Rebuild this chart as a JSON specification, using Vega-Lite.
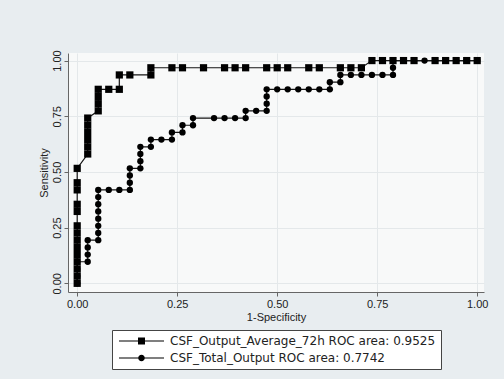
{
  "$schema": "https://vega.github.io/schema/vega-lite/v6.json",
  "width": 416,
  "height": 239,
  "padding": {"left": 37, "top": 49, "right": 15, "bottom": 13},
  "background": "#e8edf0",
  "config": {
    "font": "Liberation Sans",
    "view": {"fill": "#f8f9f9", "stroke": null},
    "legend": {"layout": {"bottom": {"anchor": "middle"}}},
    "axis": {
      "labelFont": "Liberation Sans",
      "titleFont": "Liberation Sans",
      "labelFontSize": 11,
      "titleFontSize": 11,
      "titleFontWeight": "normal",
      "labelColor": "#222",
      "titleColor": "#222",
      "domainColor": "#666",
      "tickColor": "#666",
      "tickSize": 4,
      "labelPadding": 2,
      "titlePadding": 2,
      "gridColor": "#e4e8ea",
      "gridWidth": 1
    }
  },
  "data": {
    "values": [
      {"series": "CSF_Total_Output ROC area: 0.7742", "x": 0, "y": 0},
      {"series": "CSF_Total_Output ROC area: 0.7742", "x": 0, "y": 0.0323},
      {"series": "CSF_Total_Output ROC area: 0.7742", "x": 0, "y": 0.0645},
      {"series": "CSF_Total_Output ROC area: 0.7742", "x": 0, "y": 0.0968},
      {"series": "CSF_Total_Output ROC area: 0.7742", "x": 0.0263, "y": 0.0968},
      {"series": "CSF_Total_Output ROC area: 0.7742", "x": 0.0263, "y": 0.129},
      {"series": "CSF_Total_Output ROC area: 0.7742", "x": 0.0263, "y": 0.1613},
      {"series": "CSF_Total_Output ROC area: 0.7742", "x": 0.0263, "y": 0.1935},
      {"series": "CSF_Total_Output ROC area: 0.7742", "x": 0.0526, "y": 0.1935},
      {"series": "CSF_Total_Output ROC area: 0.7742", "x": 0.0526, "y": 0.2258},
      {"series": "CSF_Total_Output ROC area: 0.7742", "x": 0.0526, "y": 0.2581},
      {"series": "CSF_Total_Output ROC area: 0.7742", "x": 0.0526, "y": 0.2903},
      {"series": "CSF_Total_Output ROC area: 0.7742", "x": 0.0526, "y": 0.3226},
      {"series": "CSF_Total_Output ROC area: 0.7742", "x": 0.0526, "y": 0.3548},
      {"series": "CSF_Total_Output ROC area: 0.7742", "x": 0.0526, "y": 0.3871},
      {"series": "CSF_Total_Output ROC area: 0.7742", "x": 0.0526, "y": 0.4194},
      {"series": "CSF_Total_Output ROC area: 0.7742", "x": 0.0789, "y": 0.4194},
      {"series": "CSF_Total_Output ROC area: 0.7742", "x": 0.1053, "y": 0.4194},
      {"series": "CSF_Total_Output ROC area: 0.7742", "x": 0.1316, "y": 0.4194},
      {"series": "CSF_Total_Output ROC area: 0.7742", "x": 0.1316, "y": 0.4516},
      {"series": "CSF_Total_Output ROC area: 0.7742", "x": 0.1316, "y": 0.4839},
      {"series": "CSF_Total_Output ROC area: 0.7742", "x": 0.1316, "y": 0.5161},
      {"series": "CSF_Total_Output ROC area: 0.7742", "x": 0.1579, "y": 0.5161},
      {"series": "CSF_Total_Output ROC area: 0.7742", "x": 0.1579, "y": 0.5484},
      {"series": "CSF_Total_Output ROC area: 0.7742", "x": 0.1579, "y": 0.5806},
      {"series": "CSF_Total_Output ROC area: 0.7742", "x": 0.1579, "y": 0.6129},
      {"series": "CSF_Total_Output ROC area: 0.7742", "x": 0.1842, "y": 0.6129},
      {"series": "CSF_Total_Output ROC area: 0.7742", "x": 0.1842, "y": 0.6452},
      {"series": "CSF_Total_Output ROC area: 0.7742", "x": 0.2105, "y": 0.6452},
      {"series": "CSF_Total_Output ROC area: 0.7742", "x": 0.2368, "y": 0.6452},
      {"series": "CSF_Total_Output ROC area: 0.7742", "x": 0.2368, "y": 0.6774},
      {"series": "CSF_Total_Output ROC area: 0.7742", "x": 0.2632, "y": 0.6774},
      {"series": "CSF_Total_Output ROC area: 0.7742", "x": 0.2632, "y": 0.7097},
      {"series": "CSF_Total_Output ROC area: 0.7742", "x": 0.2895, "y": 0.7097},
      {"series": "CSF_Total_Output ROC area: 0.7742", "x": 0.2895, "y": 0.7419},
      {"series": "CSF_Total_Output ROC area: 0.7742", "x": 0.3421, "y": 0.7419},
      {"series": "CSF_Total_Output ROC area: 0.7742", "x": 0.3684, "y": 0.7419},
      {"series": "CSF_Total_Output ROC area: 0.7742", "x": 0.3947, "y": 0.7419},
      {"series": "CSF_Total_Output ROC area: 0.7742", "x": 0.4211, "y": 0.7419},
      {"series": "CSF_Total_Output ROC area: 0.7742", "x": 0.4211, "y": 0.7742},
      {"series": "CSF_Total_Output ROC area: 0.7742", "x": 0.4474, "y": 0.7742},
      {"series": "CSF_Total_Output ROC area: 0.7742", "x": 0.4737, "y": 0.7742},
      {"series": "CSF_Total_Output ROC area: 0.7742", "x": 0.4737, "y": 0.8065},
      {"series": "CSF_Total_Output ROC area: 0.7742", "x": 0.4737, "y": 0.8387},
      {"series": "CSF_Total_Output ROC area: 0.7742", "x": 0.4737, "y": 0.871},
      {"series": "CSF_Total_Output ROC area: 0.7742", "x": 0.5, "y": 0.871},
      {"series": "CSF_Total_Output ROC area: 0.7742", "x": 0.5263, "y": 0.871},
      {"series": "CSF_Total_Output ROC area: 0.7742", "x": 0.5526, "y": 0.871},
      {"series": "CSF_Total_Output ROC area: 0.7742", "x": 0.5789, "y": 0.871},
      {"series": "CSF_Total_Output ROC area: 0.7742", "x": 0.6053, "y": 0.871},
      {"series": "CSF_Total_Output ROC area: 0.7742", "x": 0.6316, "y": 0.871},
      {"series": "CSF_Total_Output ROC area: 0.7742", "x": 0.6316, "y": 0.9032},
      {"series": "CSF_Total_Output ROC area: 0.7742", "x": 0.6579, "y": 0.9032},
      {"series": "CSF_Total_Output ROC area: 0.7742", "x": 0.6579, "y": 0.9355},
      {"series": "CSF_Total_Output ROC area: 0.7742", "x": 0.6842, "y": 0.9355},
      {"series": "CSF_Total_Output ROC area: 0.7742", "x": 0.7105, "y": 0.9355},
      {"series": "CSF_Total_Output ROC area: 0.7742", "x": 0.7368, "y": 0.9355},
      {"series": "CSF_Total_Output ROC area: 0.7742", "x": 0.7632, "y": 0.9355},
      {"series": "CSF_Total_Output ROC area: 0.7742", "x": 0.7895, "y": 0.9355},
      {"series": "CSF_Total_Output ROC area: 0.7742", "x": 0.7895, "y": 0.9677},
      {"series": "CSF_Total_Output ROC area: 0.7742", "x": 0.7895, "y": 1},
      {"series": "CSF_Total_Output ROC area: 0.7742", "x": 0.8158, "y": 1},
      {"series": "CSF_Total_Output ROC area: 0.7742", "x": 0.8421, "y": 1},
      {"series": "CSF_Total_Output ROC area: 0.7742", "x": 0.8684, "y": 1},
      {"series": "CSF_Total_Output ROC area: 0.7742", "x": 0.8947, "y": 1},
      {"series": "CSF_Total_Output ROC area: 0.7742", "x": 0.9211, "y": 1},
      {"series": "CSF_Total_Output ROC area: 0.7742", "x": 0.9474, "y": 1},
      {"series": "CSF_Total_Output ROC area: 0.7742", "x": 0.9737, "y": 1},
      {"series": "CSF_Total_Output ROC area: 0.7742", "x": 1, "y": 1},
      {"series": "CSF_Output_Average_72h ROC area: 0.9525", "x": 0, "y": 0},
      {"series": "CSF_Output_Average_72h ROC area: 0.9525", "x": 0, "y": 0.0323},
      {"series": "CSF_Output_Average_72h ROC area: 0.9525", "x": 0, "y": 0.0645},
      {"series": "CSF_Output_Average_72h ROC area: 0.9525", "x": 0, "y": 0.0968},
      {"series": "CSF_Output_Average_72h ROC area: 0.9525", "x": 0, "y": 0.129},
      {"series": "CSF_Output_Average_72h ROC area: 0.9525", "x": 0, "y": 0.1613},
      {"series": "CSF_Output_Average_72h ROC area: 0.9525", "x": 0, "y": 0.1935},
      {"series": "CSF_Output_Average_72h ROC area: 0.9525", "x": 0, "y": 0.2258},
      {"series": "CSF_Output_Average_72h ROC area: 0.9525", "x": 0, "y": 0.2581},
      {"series": "CSF_Output_Average_72h ROC area: 0.9525", "x": 0, "y": 0.3226},
      {"series": "CSF_Output_Average_72h ROC area: 0.9525", "x": 0, "y": 0.3548},
      {"series": "CSF_Output_Average_72h ROC area: 0.9525", "x": 0, "y": 0.4194},
      {"series": "CSF_Output_Average_72h ROC area: 0.9525", "x": 0, "y": 0.4516},
      {"series": "CSF_Output_Average_72h ROC area: 0.9525", "x": 0, "y": 0.5161},
      {"series": "CSF_Output_Average_72h ROC area: 0.9525", "x": 0.0263, "y": 0.5806},
      {"series": "CSF_Output_Average_72h ROC area: 0.9525", "x": 0.0263, "y": 0.6129},
      {"series": "CSF_Output_Average_72h ROC area: 0.9525", "x": 0.0263, "y": 0.6452},
      {"series": "CSF_Output_Average_72h ROC area: 0.9525", "x": 0.0263, "y": 0.6774},
      {"series": "CSF_Output_Average_72h ROC area: 0.9525", "x": 0.0263, "y": 0.7097},
      {"series": "CSF_Output_Average_72h ROC area: 0.9525", "x": 0.0263, "y": 0.7419},
      {"series": "CSF_Output_Average_72h ROC area: 0.9525", "x": 0.0526, "y": 0.7742},
      {"series": "CSF_Output_Average_72h ROC area: 0.9525", "x": 0.0526, "y": 0.8065},
      {"series": "CSF_Output_Average_72h ROC area: 0.9525", "x": 0.0526, "y": 0.8387},
      {"series": "CSF_Output_Average_72h ROC area: 0.9525", "x": 0.0526, "y": 0.871},
      {"series": "CSF_Output_Average_72h ROC area: 0.9525", "x": 0.0789, "y": 0.871},
      {"series": "CSF_Output_Average_72h ROC area: 0.9525", "x": 0.1053, "y": 0.871},
      {"series": "CSF_Output_Average_72h ROC area: 0.9525", "x": 0.1053, "y": 0.9355},
      {"series": "CSF_Output_Average_72h ROC area: 0.9525", "x": 0.1316, "y": 0.9355},
      {"series": "CSF_Output_Average_72h ROC area: 0.9525", "x": 0.1842, "y": 0.9355},
      {"series": "CSF_Output_Average_72h ROC area: 0.9525", "x": 0.1842, "y": 0.9677},
      {"series": "CSF_Output_Average_72h ROC area: 0.9525", "x": 0.2368, "y": 0.9677},
      {"series": "CSF_Output_Average_72h ROC area: 0.9525", "x": 0.2632, "y": 0.9677},
      {"series": "CSF_Output_Average_72h ROC area: 0.9525", "x": 0.3158, "y": 0.9677},
      {"series": "CSF_Output_Average_72h ROC area: 0.9525", "x": 0.3684, "y": 0.9677},
      {"series": "CSF_Output_Average_72h ROC area: 0.9525", "x": 0.3947, "y": 0.9677},
      {"series": "CSF_Output_Average_72h ROC area: 0.9525", "x": 0.4211, "y": 0.9677},
      {"series": "CSF_Output_Average_72h ROC area: 0.9525", "x": 0.4737, "y": 0.9677},
      {"series": "CSF_Output_Average_72h ROC area: 0.9525", "x": 0.5, "y": 0.9677},
      {"series": "CSF_Output_Average_72h ROC area: 0.9525", "x": 0.5263, "y": 0.9677},
      {"series": "CSF_Output_Average_72h ROC area: 0.9525", "x": 0.5789, "y": 0.9677},
      {"series": "CSF_Output_Average_72h ROC area: 0.9525", "x": 0.6053, "y": 0.9677},
      {"series": "CSF_Output_Average_72h ROC area: 0.9525", "x": 0.6579, "y": 0.9677},
      {"series": "CSF_Output_Average_72h ROC area: 0.9525", "x": 0.6842, "y": 0.9677},
      {"series": "CSF_Output_Average_72h ROC area: 0.9525", "x": 0.7105, "y": 0.9677},
      {"series": "CSF_Output_Average_72h ROC area: 0.9525", "x": 0.7368, "y": 1},
      {"series": "CSF_Output_Average_72h ROC area: 0.9525", "x": 0.7632, "y": 1},
      {"series": "CSF_Output_Average_72h ROC area: 0.9525", "x": 0.7895, "y": 1},
      {"series": "CSF_Output_Average_72h ROC area: 0.9525", "x": 0.8158, "y": 1},
      {"series": "CSF_Output_Average_72h ROC area: 0.9525", "x": 0.8421, "y": 1},
      {"series": "CSF_Output_Average_72h ROC area: 0.9525", "x": 0.8947, "y": 1},
      {"series": "CSF_Output_Average_72h ROC area: 0.9525", "x": 0.9211, "y": 1},
      {"series": "CSF_Output_Average_72h ROC area: 0.9525", "x": 0.9474, "y": 1},
      {"series": "CSF_Output_Average_72h ROC area: 0.9525", "x": 0.9737, "y": 1},
      {"series": "CSF_Output_Average_72h ROC area: 0.9525", "x": 1, "y": 1}
    ]
  },
  "encoding": {
    "x": {
      "field": "x",
      "type": "quantitative",
      "title": "1-Specificity",
      "scale": {"domain": [-0.023, 1.017], "nice": false, "zero": false},
      "axis": {"values": [0, 0.25, 0.5, 0.75, 1], "format": ".2f"}
    },
    "y": {
      "field": "y",
      "type": "quantitative",
      "title": "Sensitivity",
      "scale": {"domain": [-0.039, 1.034], "nice": false, "zero": false},
      "axis": {
        "values": [0, 0.25, 0.5, 0.75, 1],
        "format": ".2f",
        "labelAngle": 270,
        "labelAlign": "center",
        "labelBaseline": "bottom"
      }
    }
  },
  "layer": [
    {
      "mark": {"type": "line", "color": "#151515", "strokeWidth": 1.2},
      "encoding": {
        "detail": {"field": "series", "type": "nominal"},
        "order": [{"field": "x", "type": "quantitative"}, {"field": "y", "type": "quantitative"}]
      }
    },
    {
      "mark": {"type": "point", "filled": true, "color": "#000", "opacity": 1},
      "encoding": {
        "shape": {
          "field": "series",
          "type": "nominal",
          "scale": {
            "domain": ["CSF_Output_Average_72h ROC area: 0.9525", "CSF_Total_Output ROC area: 0.7742"],
            "range": ["square", "circle"]
          },
          "legend": null
        },
        "size": {
          "field": "series",
          "type": "nominal",
          "scale": {
            "domain": ["CSF_Output_Average_72h ROC area: 0.9525", "CSF_Total_Output ROC area: 0.7742"],
            "range": [52, 40]
          },
          "legend": null
        }
      }
    },
    {
      "mark": {"type": "point", "filled": true, "color": "#000", "opacity": 0, "size": 64},
      "encoding": {
        "shape": {
          "field": "series",
          "type": "nominal",
          "scale": {
            "domain": ["CSF_Output_Average_72h ROC area: 0.9525", "CSF_Total_Output ROC area: 0.7742"],
            "range": [
              "M-1,-0.13H10.25V0.13H-1ZM3.75,-0.875H5.5V0.875H3.75Z",
              "M-1,-0.13H10.25V0.13H-1ZM3.8,0A0.825,0.825 0 1,1 5.45,0A0.825,0.825 0 1,1 3.8,0Z"
            ]
          },
          "legend": {
            "title": null,
            "orient": "bottom",
            "direction": "vertical",
            "offset": 8,
            "padding": 5,
            "strokeColor": "#444",
            "fillColor": "#ffffff",
            "labelFont": "DejaVu Sans",
            "labelFontSize": 12,
            "labelColor": "#222",
            "labelOffset": 41,
            "labelLimit": 400,
            "rowPadding": 5,
            "symbolSize": 64,
            "symbolOpacity": 1,
            "symbolStrokeWidth": 0,
            "symbolFillColor": "#000",
            "encode": {
              "symbols": {
                "update": {
                  "opacity": {"value": 1},
                  "fill": {"value": "#000"},
                  "size": {"value": 64}
                }
              }
            }
          }
        }
      }
    }
  ],
  "resolve": {"scale": {"shape": "independent", "size": "independent"}, "legend": {"shape": "independent"}}
}
